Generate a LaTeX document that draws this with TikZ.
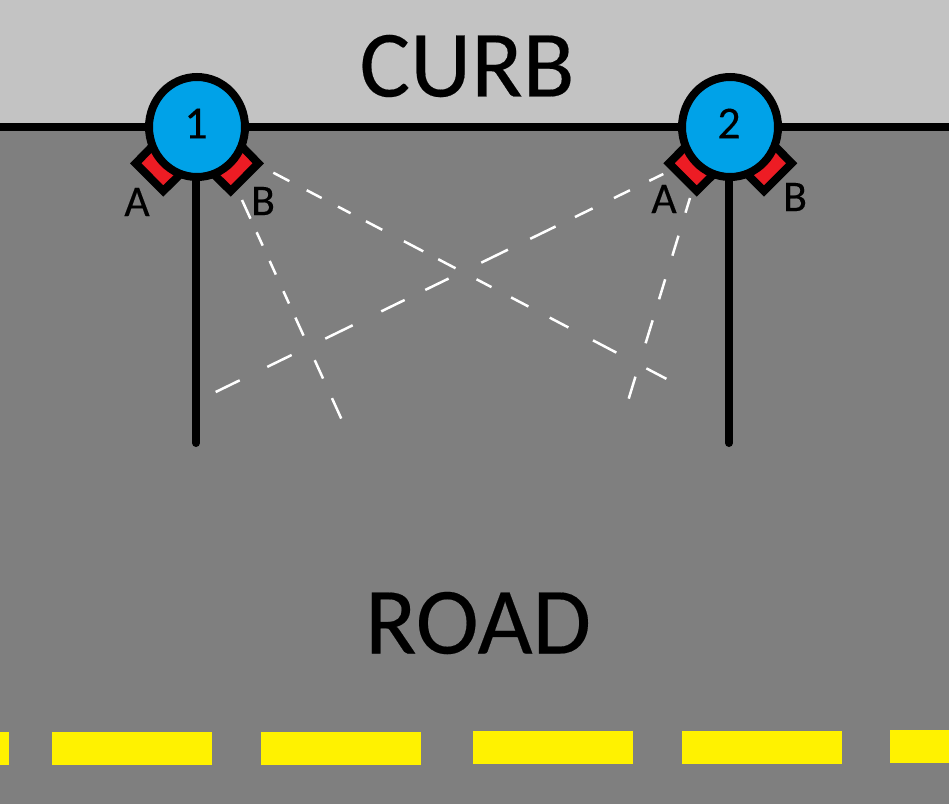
\documentclass[tikz,border=0pt]{standalone}
\usepackage{fontspec}
\usetikzlibrary{shapes.geometric}
\setmainfont{Carlito}[FakeBold=0.2]
\definecolor{curbgray}{HTML}{C3C3C3}
\definecolor{roadgray}{HTML}{7F7F7F}
\definecolor{sensorblue}{HTML}{00A2E8}
\definecolor{flagred}{HTML}{ED1C24}
\definecolor{laneyellow}{HTML}{FFF200}
\tikzset{
  heavy/.style={draw=black,line width=8pt},
  unit/.style={ellipse,draw=black,line width=8pt,fill=sensorblue,minimum width=96pt,minimum height=100pt,inner sep=0pt,font=\fontsize{46}{46}\selectfont,text=black},
  flag/.style={draw=black,line width=8pt,fill=flagred,line join=miter},
  beam/.style={draw=white,line width=2.5pt},
  tag/.style={font=\fontsize{44}{44}\selectfont,text=black,inner sep=0pt},
  title/.style={font=\fontsize{95}{95}\selectfont,text=black,inner sep=0pt},
  lane/.style={fill=laneyellow,draw=none},
}
\begin{document}
\begin{tikzpicture}[x=1pt,y=-1pt]
\useasboundingbox (0,0) rectangle (949,804);
\fill[curbgray] (0,0) rectangle (949,127);
\fill[roadgray] (0,127) rectangle (949,804);
% lane markings
\fill[lane] (-1,732) rectangle (9,765);
\fill[lane] (52,732) rectangle (212,765);
\fill[lane] (261,732) rectangle (421,765);
\fill[lane] (473,731) rectangle (633,764);
\fill[lane] (682,731) rectangle (842,764);
\fill[lane] (890,730) rectangle (950,763);
% curb line
\draw[heavy] (0,127) -- (949,127);
% coordinates
\coordinate (b1s) at (273.3,172.7);
\coordinate (b1e) at (666.7,379);
\coordinate (b2s) at (242,200);
\coordinate (b2e) at (341.3,418.7);
\coordinate (a1s) at (663.3,174);
\coordinate (a1e) at (215.7,392);
\coordinate (a2s) at (690,198);
\coordinate (a2e) at (628.7,398.7);
\coordinate (p1) at (196,443);
\coordinate (p2) at (729,443);
% beams
\draw[beam,dash pattern=on 18.1pt off 19.6pt on 16.9pt off 18.4pt on 14.3pt off 17.3pt on 18.4pt off 24.5pt on 21.8pt off 16.9pt on 19.6pt off 23.7pt on 16.9pt off 22.1pt on 19.6pt off 24pt on 21.1pt off 27.8pt on 26.4pt off 33.9pt on 22.6pt off 5pt] (b1s) -- (b1e);
\draw[beam,dash pattern=on 20.5pt off 14.9pt on 14.7pt off 16.8pt on 15pt off 18.2pt on 13.6pt off 15.4pt on 19.8pt off 27pt on 20.2pt off 21.5pt on 22.4pt off 5pt] (b2s) -- (b2e);
\draw[beam,dash pattern=on 15.6pt off 21.5pt on 17.8pt off 23.7pt on 19.7pt off 21.5pt on 28.2pt off 24.8pt on 29.7pt off 36.3pt on 26pt off 22.9pt on 26pt off 31.8pt on 30.5pt off 37.4pt on 27.1pt off 30.7pt on 26.7pt off 5pt] (a1s) -- (a1e);
\draw[beam,dash pattern=on 15.4pt off 24pt on 20.9pt off 24.7pt on 20.9pt off 22pt on 24pt off 34.9pt on 23pt off 5pt] (a2s) -- (a2e);
% flags
\draw[flag] (135.7,163.3) -- (163.3,191) -- (184,170.5) -- (156,142.5) -- cycle;
\draw[flag] (258.3,163.3) -- (230.7,191) -- (210,170.5) -- (238,142.5) -- cycle;
\draw[flag] (669,163.3) -- (696.7,191) -- (717.4,170.5) -- (689.4,142.5) -- cycle;
\draw[flag] (791.7,163.3) -- (764,191) -- (743.4,170.5) -- (771.4,142.5) -- cycle;
% units
\node[unit] (n1) at (197,127) {\raisebox{7pt}{\kern-2pt 1}};
\node[unit] (n2) at (730,127) {\raisebox{7pt}{\kern-2pt 2}};
\draw[heavy,line cap=round] (n1.south -| p1) -- (p1);
\draw[heavy,line cap=round] (n2.south -| p2) -- (p2);
% labels
\node[tag] (a1) at (137,202) {A};
\node[tag] (b1) at (263,201) {B};
\node[tag] (a2) at (664,199) {A};
\node[tag] (b2) at (795,197) {B};
\node[title] (curb) at (467,66) {CURB};
\node[title] (road) at (478,623) {ROAD};
\end{tikzpicture}
\end{document}
